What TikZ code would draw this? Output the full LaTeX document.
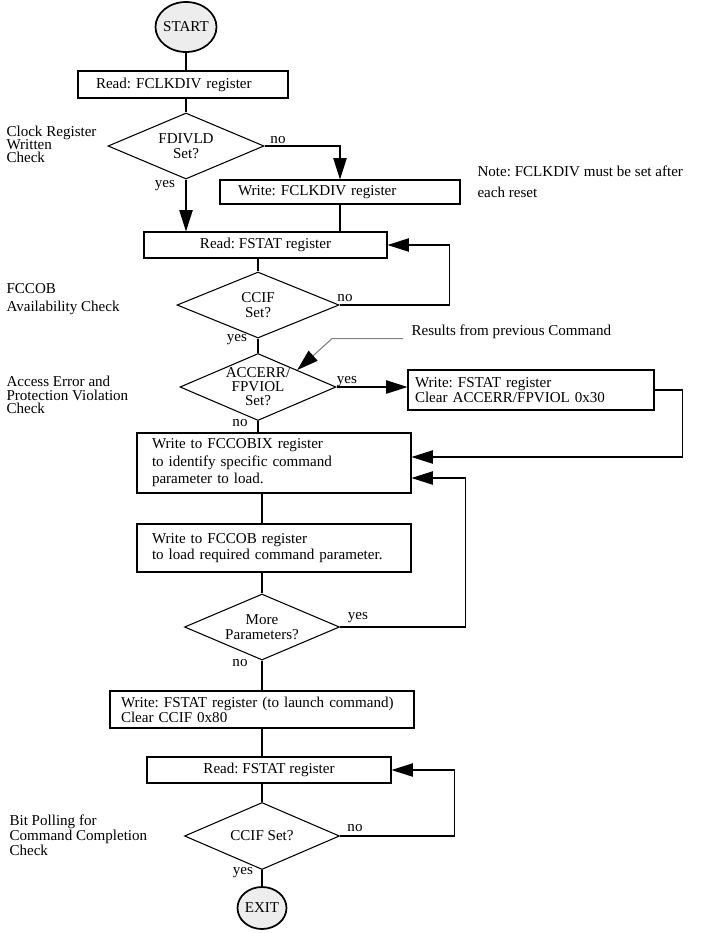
\documentclass[tikz,border=0pt]{standalone}
\usepackage{fontspec}
\setmainfont{Liberation Serif}
\usetikzlibrary{shapes.geometric, arrows.meta, calc}
\newcommand{\fsz}[1]{\fontsize{11.3}{#1}\selectfont}
\frenchspacing

\begin{document}
\begin{tikzpicture}[x=0.75pt, y=-0.75pt, line width=0.8pt, font=\fsz{11.25pt},
    box/.style={draw, rectangle, inner ysep=0pt},
    lbox/.style={box, align=left},
    term/.style={draw, ellipse, fill=black!7, inner sep=0pt, line width=1.3pt},
    dec/.style={draw, diamond, inner sep=0pt},
    txt/.style={inner sep=0pt, align=left},
    arr/.style={-{Triangle[length=16pt, width=10pt]}}]
  \useasboundingbox (0,0) rectangle (718,933);
  % terminals
  \node[term, minimum width=45.75pt, minimum height=37.5pt, label=center:START] (start) at (186,27) {};
  \node[term, minimum width=36.75pt, minimum height=31.5pt, label=center:EXIT] (exit) at (262,908) {};
  % process boxes
  \node[lbox, inner xsep=13.5pt, text width=130.5pt, minimum height=20.25pt] (rf1) at (183,84.5) {Read: FCLKDIV register};
  \node[lbox, inner xsep=13.5pt, text width=153pt, minimum height=18pt] (wf) at (340,192) {Write: FCLKDIV register};
  \node[box, inner xsep=0pt, minimum width=182.25pt, minimum height=19.5pt] (rs1) at (265.5,245) {Read: FSTAT register};
  \node[lbox, inner xsep=5.25pt, text width=174pt, minimum height=30pt] (wc) at (531,390) {Write: FSTAT register\\Clear ACCERR/FPVIOL 0x30};
  \node[lbox, inner xsep=11.25pt, text width=183pt, minimum height=45pt, font=\fsz{13.1pt}] (ix) at (274,463) {Write to FCCOBIX register\\to identify specific command\\parameter to load.};
  \node[lbox, inner xsep=11.25pt, text width=183pt, minimum height=36pt, font=\fsz{12.5pt}] (cb) at (274,548) {Write to FCCOB register\\to load required command parameter.};
  \node[lbox, inner xsep=8.25pt, text width=211.5pt, minimum height=27.75pt, font=\fsz{9.5pt}] (wl) at (262,709.5) {Write: FSTAT register (to launch command)\\Clear CCIF 0x80};
  \node[box, inner xsep=0pt, minimum width=183pt, minimum height=19.5pt] (rs2) at (269,770) {Read: FSTAT register};
  % decisions
  \node[dec, minimum width=117pt, minimum height=49.5pt, label={[align=center]center:FDIVLD\\Set?}] (d1) at (186,146) {};
  \node[dec, minimum width=121.5pt, minimum height=49.5pt, label={[align=center]center:CCIF\\Set?}] (d2) at (258,305) {};
  \node[dec, minimum width=117pt, minimum height=50.25pt, label={[align=center, font=\fsz{10.5pt}]center:ACCERR/\\FPVIOL\\Set?}] (d3) at (258,387) {};
  \node[dec, minimum width=116.25pt, minimum height=49.5pt, label={[align=center]center:More\\Parameters?}] (d4) at (262,627) {};
  \node[dec, minimum width=116.25pt, minimum height=50.25pt, label=center:CCIF Set?] (d5) at (262,836) {};
  % side notes
  \node[txt, anchor=west, font=\fsz{10pt}] (nclk) at (6,144.5) {Clock Register\\Written\\Check};
  \node[txt, anchor=west, font=\fsz{14pt}] (nfcc) at (6,299) {FCCOB\\Availability Check};
  \node[txt, anchor=west, font=\fsz{10pt}] (nacc) at (6,395) {Access Error and\\Protection Violation\\Check};
  \node[txt, anchor=west, font=\fsz{11.25pt}] (npol) at (9,835) {Bit Polling for\\Command Completion\\Check};
  \node[txt, anchor=west, font=\fsz{15.75pt}] (note) at (477,182) {Note: FCLKDIV must be set after\\each reset};
  \node[txt, anchor=west] (res) at (411,332) {Results from previous Command};
  % yes / no labels
  \node (n1) at (278,140) {no};
  \node (y1) at (165,186) {yes};
  \node (n2) at (345,298) {no};
  \node (y2) at (237,340) {yes};
  \node (y3) at (347,382) {yes};
  \node (n3) at (240,423) {no};
  \node (y4) at (358,618) {yes};
  \node (n4) at (240,663) {no};
  \node (n5) at (355,828) {no};
  \node (y5) at (243,873) {yes};
  % main flow
  \draw (start.south) -- (start.south |- rf1.north);
  \draw (rf1.south -| d1) -- (d1.north);
  \draw[arr] (d1.east) -| (wf.north);
  \draw[arr] (d1.south) -- (d1.south |- rs1.north);
  \draw (wf.south) -- (wf.south |- rs1.north);
  \draw (d2.north |- rs1.south) -- (d2.north);
  \draw (d2.south) -- (d3.north);
  \draw[arr] (d3.east) -- (d3.east -| wc.west);
  \draw (d3.south) -- (d3.south |- ix.north);
  \draw (ix.south -| d4) -- (cb.north -| d4);
  \draw (cb.south -| d4) -- (d4.north);
  \draw (d4.south) -- (d4.south |- wl.north);
  \draw (wl.south -| d5) -- (rs2.north -| d5);
  \draw (rs2.south -| d5) -- (d5.north);
  \draw (d5.south) -- (exit.north);
  % loops back
  \draw[arr] (d2.east) -- ++(110,0) |- (rs1.east);
  \draw[arr] (wc.east) -- ++(28,0) |- ([yshift=4.5pt]ix.east);
  \draw[arr] (d4.east) -- ++(125,0) |- ([yshift=-11.25pt]ix.east);
  \draw[arr] (d5.east) -- ++(114,0) |- (rs2.east);
  % pointer to the check
  \draw[gray, -{Triangle[length=16pt, width=10pt, color=black]}] ([xshift=-6pt, yshift=-5pt]res.west) -- ++(-71,0) -- (d3.north east);
\end{tikzpicture}
\end{document}
